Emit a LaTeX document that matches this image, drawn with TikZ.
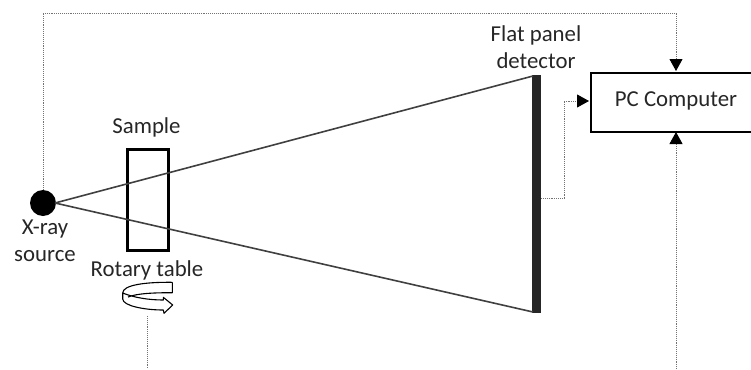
\documentclass[tikz,border=0pt]{standalone}
\usepackage{fontspec}
\setmainfont{Carlito}
\usetikzlibrary{arrows.meta}
\tikzset{
  lbl/.style={inner sep=0pt,font=\fontsize{22.8}{27}\selectfont,text=black!85,align=center},
  ray/.style={draw=black!75,line width=1.6pt},
  signal/.style={draw=black!55,line width=0.9pt,densely dotted},
  sarrow/.style={signal,-{Triangle[length=12pt,width=13pt,black]}},
}
\begin{document}
\begin{tikzpicture}[x=1pt,y=-1pt]
\useasboundingbox (0,0) rectangle (751,369);
\node[draw=black,line width=1.8pt,fill=white,minimum width=161pt,minimum height=59pt,inner sep=0pt,anchor=north west] (pc) at (590,72) {};
\node[lbl] (pclabel) at (676,101) {PC Computer};
\node[circle,fill=black,minimum size=26pt,inner sep=0pt] (src) at (43,203) {};
\node[draw=black,line width=2.6pt,minimum width=41pt,minimum height=101pt,inner sep=0pt] (sample) at (148,200) {};
\node[fill=black!85,minimum width=9pt,minimum height=238pt,inner sep=0pt] (det) at (536.5,194) {};
\coordinate (rayo) at (55,203);
\coordinate (raytop) at (533,76);
\coordinate (raybot) at (533,312);
\draw[ray] (rayo) -- (raytop);
\draw[ray] (rayo) -- (raybot);
\node[lbl] (samplelabel) at (146.5,127) {Sample};
\node[lbl] (srclabel) at (45,241) {X-ray\\source};
\node[lbl] (rotlabel) at (147,270) {Rotary table};
\node[lbl] (detlabel) at (536,47) {Flat panel\\detector};
\draw[black,line width=1.1pt,line join=round]
  (172.3,282.3) -- (172.3,292.7) .. controls (152,292.7) and (137,293.5) .. (128,297)
  (172.3,282.3) .. controls (145,282) and (122.7,285) .. (122.7,293) -- (122.7,299)
  .. controls (123,306) and (145,310) .. (163.3,310) -- (164,313.3) -- (172.7,305) -- (163.3,297.3) -- (163.3,300)
  .. controls (150,300) and (135,298) .. (122.7,293);
\coordinate (topcorner) at (43,13);
\coordinate (topdrop) at (676,13);
\coordinate (botin) at (676,369);
\coordinate (rotend) at (147,369);
\coordinate (rotstart) at (147,316);
\coordinate (detout) at (541,198);
\coordinate (detbend) at (564,198);
\coordinate (detbend2) at (564,101);
\draw[sarrow] (src.north) -- (topcorner) -- (topdrop) -- (676,71);
\draw[sarrow] (botin) -- (676,132);
\draw[signal] (rotstart) -- (rotend);
\draw[sarrow] (detout) -- (detbend) -- (detbend2) -- (589,101);
\end{tikzpicture}
\end{document}
